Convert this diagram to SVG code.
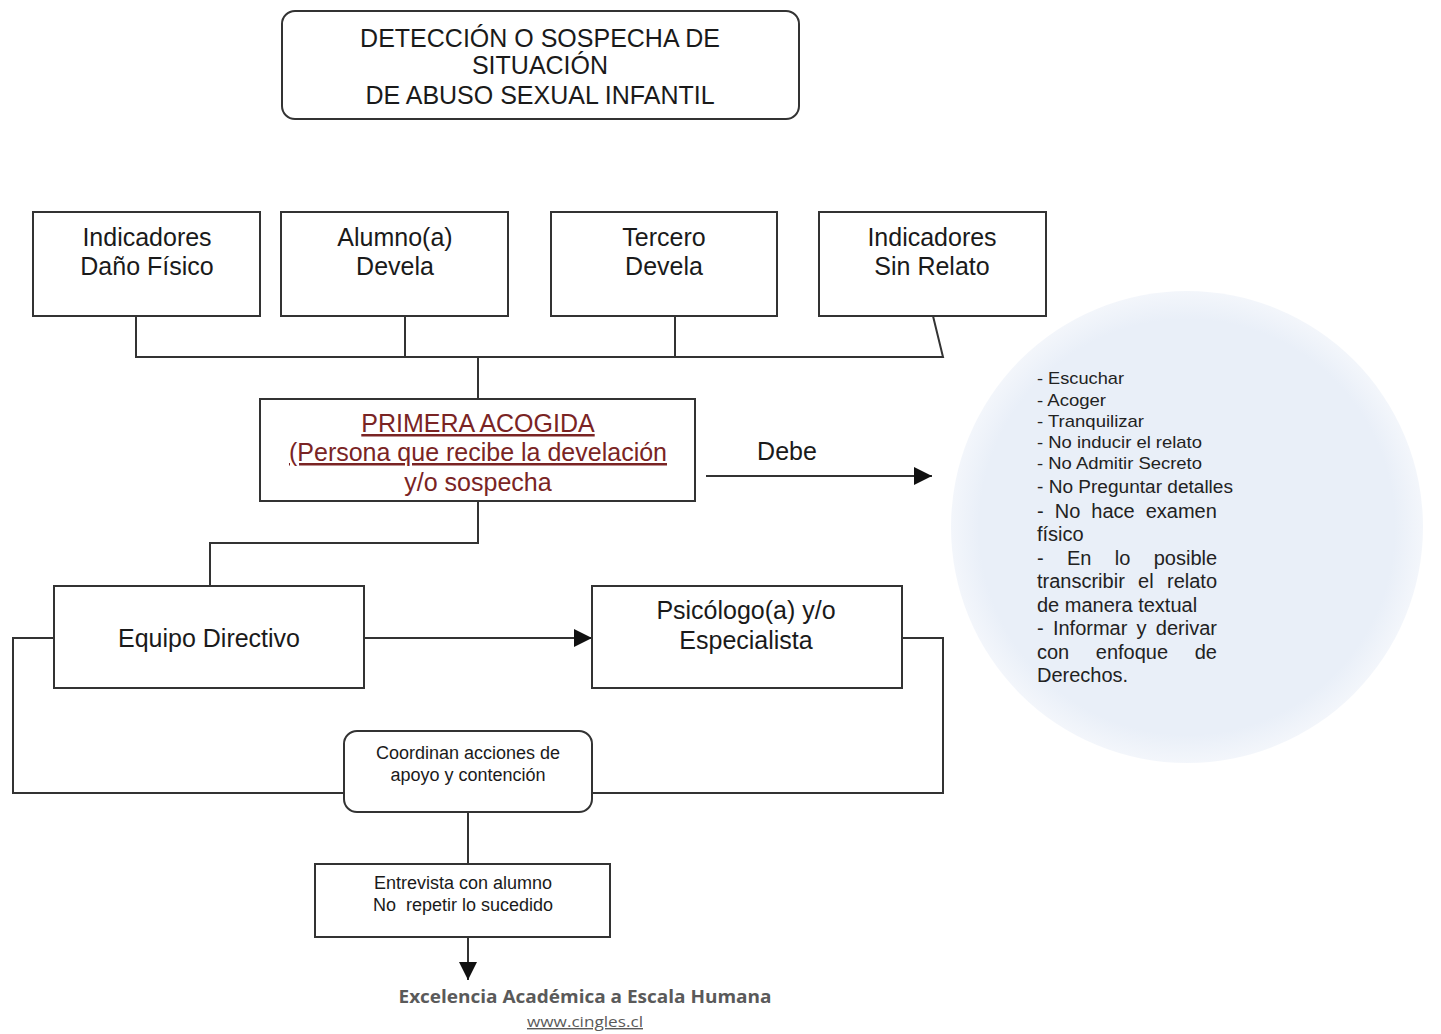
<svg xmlns="http://www.w3.org/2000/svg" width="1441" height="1034" viewBox="0 0 1441 1034">
<style>
  .box{fill:#fff;stroke:#333;stroke-width:2}
  .t{font-family:"Liberation Sans",Arial,sans-serif;fill:#1a1a1a;text-anchor:middle}
  .big{font-size:25px}
  .mid{font-size:18px}
  .red{fill:#7a2424}
  .ln{fill:none;stroke:#333;stroke-width:2}
  .c{font-family:"Liberation Sans",Arial,sans-serif;fill:#222}
</style>
<defs>
  <marker id="ah" markerWidth="18" markerHeight="18" refX="10" refY="5" orient="auto" markerUnits="userSpaceOnUse" viewBox="0 0 10 10">
    <path d="M0,0 L10,5 L0,10 Z" fill="#111"/>
  </marker>
  <radialGradient id="cg" cx="0.5" cy="0.5" r="0.5">
    <stop offset="0" stop-color="#e9eff8"/>
    <stop offset="0.88" stop-color="#e9eff8"/>
    <stop offset="1" stop-color="#f3f6fb"/>
  </radialGradient>
</defs>
<rect width="1441" height="1034" fill="#fff"/>

<g id="circle">
  <circle cx="1187" cy="527" r="236" fill="url(#cg)"/>
  <g class="c" font-size="17">
    <text x="1037" y="384" textLength="87" lengthAdjust="spacingAndGlyphs">- Escuchar</text>
    <text x="1037" y="406" textLength="69" lengthAdjust="spacingAndGlyphs">- Acoger</text>
    <text x="1037" y="427" textLength="107" lengthAdjust="spacingAndGlyphs">- Tranquilizar</text>
    <text x="1037" y="448" textLength="165" lengthAdjust="spacingAndGlyphs">- No inducir el relato</text>
    <text x="1037" y="469" textLength="165" lengthAdjust="spacingAndGlyphs">- No Admitir Secreto</text>
    <text x="1037" y="493" font-size="18" textLength="196" lengthAdjust="spacingAndGlyphs">- No Preguntar detalles</text>
  </g>
  <g class="c" font-size="20">
    <text y="518"><tspan x="1037">-</tspan><tspan x="1054.7">No</tspan><tspan x="1091.3">hace</tspan><tspan x="1145.7">examen</tspan></text>
    <text x="1037" y="541">físico</text>
    <text y="565"><tspan x="1037">-</tspan><tspan x="1067">En</tspan><tspan x="1114.8">lo</tspan><tspan x="1153.7">posible</tspan></text>
    <text y="588"><tspan x="1037">transcribir</tspan><tspan x="1138.1">el</tspan><tspan x="1167">relato</tspan></text>
    <text x="1037" y="612">de manera textual</text>
    <text y="635"><tspan x="1037">-</tspan><tspan x="1052.9">Informar</tspan><tspan x="1136.6">y</tspan><tspan x="1155.8">derivar</tspan></text>
    <text y="659"><tspan x="1037">con</tspan><tspan x="1095.8">enfoque</tspan><tspan x="1194.7">de</tspan></text>
    <text x="1037" y="682">Derechos.</text>
  </g>
</g>

<g id="connectors">
  <polyline class="ln" points="136,316 136,357 943,357 933,316"/>
  <line class="ln" x1="405" y1="316" x2="405" y2="357"/>
  <line class="ln" x1="675" y1="316" x2="675" y2="357"/>
  <line class="ln" x1="478" y1="357" x2="478" y2="399"/>
  <line class="ln" x1="706" y1="476" x2="932" y2="476" marker-end="url(#ah)"/>
  <polyline class="ln" points="478,501 478,543 210,543 210,586"/>
  <line class="ln" x1="364" y1="638" x2="592" y2="638" marker-end="url(#ah)"/>
  <polyline class="ln" points="54,638 13,638 13,793 344,793"/>
  <polyline class="ln" points="902,638 943,638 943,793 592,793"/>
  <line class="ln" x1="468" y1="812" x2="468" y2="864"/>
  <line class="ln" x1="468" y1="937" x2="468" y2="980" marker-end="url(#ah)"/>
</g>

<g id="n-title">
  <rect class="box" x="282" y="11" width="517" height="108" rx="13"/>
  <text class="t" x="540" y="47" font-size="25">DETECCIÓN O SOSPECHA DE</text>
  <text class="t" x="540" y="74" font-size="25">SITUACIÓN</text>
  <text class="t" x="540" y="104" font-size="25">DE ABUSO SEXUAL INFANTIL</text>
</g>

<g id="n-danofisico">
  <rect class="box" x="33" y="212" width="227" height="104"/>
  <text class="t big" x="147" y="246">Indicadores</text>
  <text class="t big" x="147" y="275">Daño Físico</text>
</g>
<g id="n-alumno">
  <rect class="box" x="281" y="212" width="227" height="104"/>
  <text class="t big" x="395" y="246">Alumno(a)</text>
  <text class="t big" x="395" y="275">Devela</text>
</g>
<g id="n-tercero">
  <rect class="box" x="551" y="212" width="226" height="104"/>
  <text class="t big" x="664" y="246">Tercero</text>
  <text class="t big" x="664" y="275">Devela</text>
</g>
<g id="n-sinrelato">
  <rect class="box" x="819" y="212" width="227" height="104"/>
  <text class="t big" x="932" y="246">Indicadores</text>
  <text class="t big" x="932" y="275">Sin Relato</text>
</g>

<g id="n-primera">
  <rect class="box" x="260" y="399" width="435" height="102"/>
  <text class="t big red" x="478" y="432" text-decoration="underline">PRIMERA ACOGIDA</text>
  <text class="t big red" x="478" y="461" text-decoration="underline">(Persona que recibe la develación</text>
  <text class="t big red" x="478" y="491">y/o sospecha</text>
</g>

<g id="l-debe">
  <text class="t big" x="787" y="460">Debe</text>
</g>

<g id="n-equipo">
  <rect class="box" x="54" y="586" width="310" height="102"/>
  <text class="t big" x="209" y="647">Equipo Directivo</text>
</g>

<g id="n-psicologo">
  <rect class="box" x="592" y="586" width="310" height="102"/>
  <text class="t big" x="746" y="619">Psicólogo(a) y/o</text>
  <text class="t big" x="746" y="649">Especialista</text>
</g>

<g id="n-coordinan">
  <rect class="box" x="344" y="731" width="248" height="81" rx="13"/>
  <text class="t mid" x="468" y="759">Coordinan acciones de</text>
  <text class="t mid" x="468" y="781">apoyo y contención</text>
</g>

<g id="n-entrevista">
  <rect class="box" x="315" y="864" width="295" height="73"/>
  <text class="t mid" x="463" y="889">Entrevista con alumno</text>
  <text class="t mid" x="463" y="911" xml:space="preserve">No  repetir lo sucedido</text>
</g>

<g id="footer">
  <text x="585" y="1003" text-anchor="middle" font-family="'Open Sans','Liberation Sans',sans-serif" font-weight="bold" font-size="18" fill="#5a5a5a" textLength="373" lengthAdjust="spacingAndGlyphs">Excelencia Académica a Escala Humana</text>
  <text x="585" y="1027" text-anchor="middle" font-family="'Open Sans','Liberation Sans',sans-serif" font-size="14" fill="#5a5a5a" text-decoration="underline" textLength="116" lengthAdjust="spacingAndGlyphs">www.cingles.cl</text>
</g>
</svg>
